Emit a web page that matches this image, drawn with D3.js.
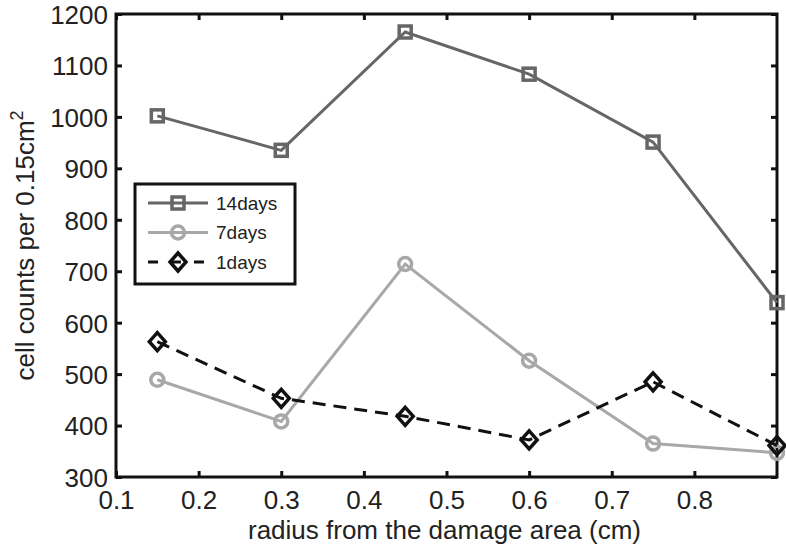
<!DOCTYPE html>
<html><head><meta charset="utf-8">
<script src="https://cdn.jsdelivr.net/npm/d3@7"></script>
<style>body{margin:0;background:#fff}svg{display:block;font-family:"Liberation Sans",Arial,sans-serif}</style>
</head><body>
<svg id="c" width="786" height="545"></svg>
<script>
const radius = [0.15, 0.30, 0.45, 0.60, 0.75, 0.90];
const days14 = [1002, 935, 1165, 1083, 951, 639];
const days7 = [489, 408, 714, 526, 365, 347];
const days1 = [563, 453, 418, 372, 485, 361];
const xTicks = [0.1, 0.2, 0.3, 0.4, 0.5, 0.6, 0.7, 0.8];
const yTicks = [300, 400, 500, 600, 700, 800, 900, 1000, 1100, 1200];
const seriesNames = ["14days", "7days", "1days"];

const svg = d3.select("#c");
const L = 116, R = 777, T = 14, B = 477;
const x = d3.scaleLinear().domain([0.1, 0.9]).range([L, R]);
const y = d3.scaleLinear().domain([300, 1200]).range([B, T]);

const series = [
  {name: seriesNames[0], vals: days14, color: "#666666", dash: null, marker: "square"},
  {name: seriesNames[1], vals: days7, color: "#a8a8a8", dash: null, marker: "circle"},
  {name: seriesNames[2], vals: days1, color: "#111111", dash: "13,8", marker: "diamond"}
];

// axes
const fs = 26;
const gx = svg.append("g").attr("transform", `translate(0,${B})`)
  .call(d3.axisBottom(x).tickValues(xTicks).tickSize(-6).tickPadding(14).tickFormat(d3.format(".1f")));
const gxT = svg.append("g").attr("transform", `translate(0,${T})`)
  .call(d3.axisTop(x).tickValues(xTicks).tickSize(-6).tickFormat(""));
const gy = svg.append("g").attr("transform", `translate(${L},0)`)
  .call(d3.axisLeft(y).tickValues(yTicks).tickSize(-6).tickPadding(8).tickFormat(d3.format("d")));
const gyR = svg.append("g").attr("transform", `translate(${R},0)`)
  .call(d3.axisRight(y).tickValues(yTicks).tickSize(-6).tickFormat(""));
[gx, gxT, gy, gyR].forEach(g => {
  g.attr("font-size", null).attr("font-family", null);
  g.select(".domain").remove();
  g.selectAll(".tick line").attr("stroke", "#111").attr("stroke-width", 3);
  g.selectAll(".tick text").attr("fill", "#222").attr("font-size", fs)
    .attr("font-family", "'Liberation Sans',Arial,sans-serif");
});
gx.selectAll(".tick text").attr("dy", "0.71em");
gy.selectAll(".tick text").attr("dy", "0.36em");
svg.append("rect").attr("x", L).attr("y", T).attr("width", R - L).attr("height", B - T)
  .attr("fill", "none").attr("stroke", "#111").attr("stroke-width", 3);

// lines
const line = d3.line().x((d, i) => x(radius[i])).y(d => y(d));
function drawMarker(g, type, cx, cy, color) {
  if (type === "square") {
    g.append("rect").attr("x", cx - 6).attr("y", cy - 6).attr("width", 12).attr("height", 12)
      .attr("fill", "none").attr("stroke", color).attr("stroke-width", 3.5);
  } else if (type === "circle") {
    g.append("circle").attr("cx", cx).attr("cy", cy).attr("r", 6.5)
      .attr("fill", "none").attr("stroke", color).attr("stroke-width", 3.5);
  } else {
    g.append("path").attr("d", `M${cx},${cy - 9}L${cx + 8},${cy}L${cx},${cy + 9}L${cx - 8},${cy}Z`)
      .attr("fill", "none").attr("stroke", color).attr("stroke-width", 3.5);
  }
}
series.forEach(s => {
  svg.append("path").attr("d", line(s.vals)).attr("fill", "none").attr("stroke", s.color)
    .attr("stroke-width", 3).attr("stroke-dasharray", s.dash);
  const g = svg.append("g");
  s.vals.forEach((v, i) => drawMarker(g, s.marker, x(radius[i]), y(v), s.color));
});

// legend
const lg = svg.append("g");
lg.append("rect").attr("x", 135).attr("y", 184).attr("width", 160).attr("height", 100)
  .attr("fill", "#fff").attr("stroke", "#111").attr("stroke-width", 3);
series.forEach((s, i) => {
  const yy = 203 + i * 29.5;
  lg.append("line").attr("x1", 148).attr("x2", 208).attr("y1", yy).attr("y2", yy)
    .attr("stroke", s.color).attr("stroke-width", 3).attr("stroke-dasharray", s.dash ? "10,13" : null);
  drawMarker(lg, s.marker, 178, yy, s.color);
  lg.append("text").attr("x", 216).attr("y", yy).attr("dy", "0.36em").attr("fill", "#222")
    .attr("font-size", 19).text(s.name);
});

// axis labels
svg.append("text").attr("x", (L + R) / 2 - 2).attr("y", 539).attr("text-anchor", "middle")
  .attr("fill", "#222").attr("font-size", 26).text("radius from the damage area (cm)");
const yl = svg.append("text").attr("transform", `translate(34,${(T + B) / 2}) rotate(-90)`)
  .attr("text-anchor", "middle").attr("fill", "#222").attr("font-size", 26);
yl.append("tspan").text("cell counts per 0.15cm");
yl.append("tspan").attr("dy", "-11").attr("font-size", 18).text("2");
</script>
</body></html>
